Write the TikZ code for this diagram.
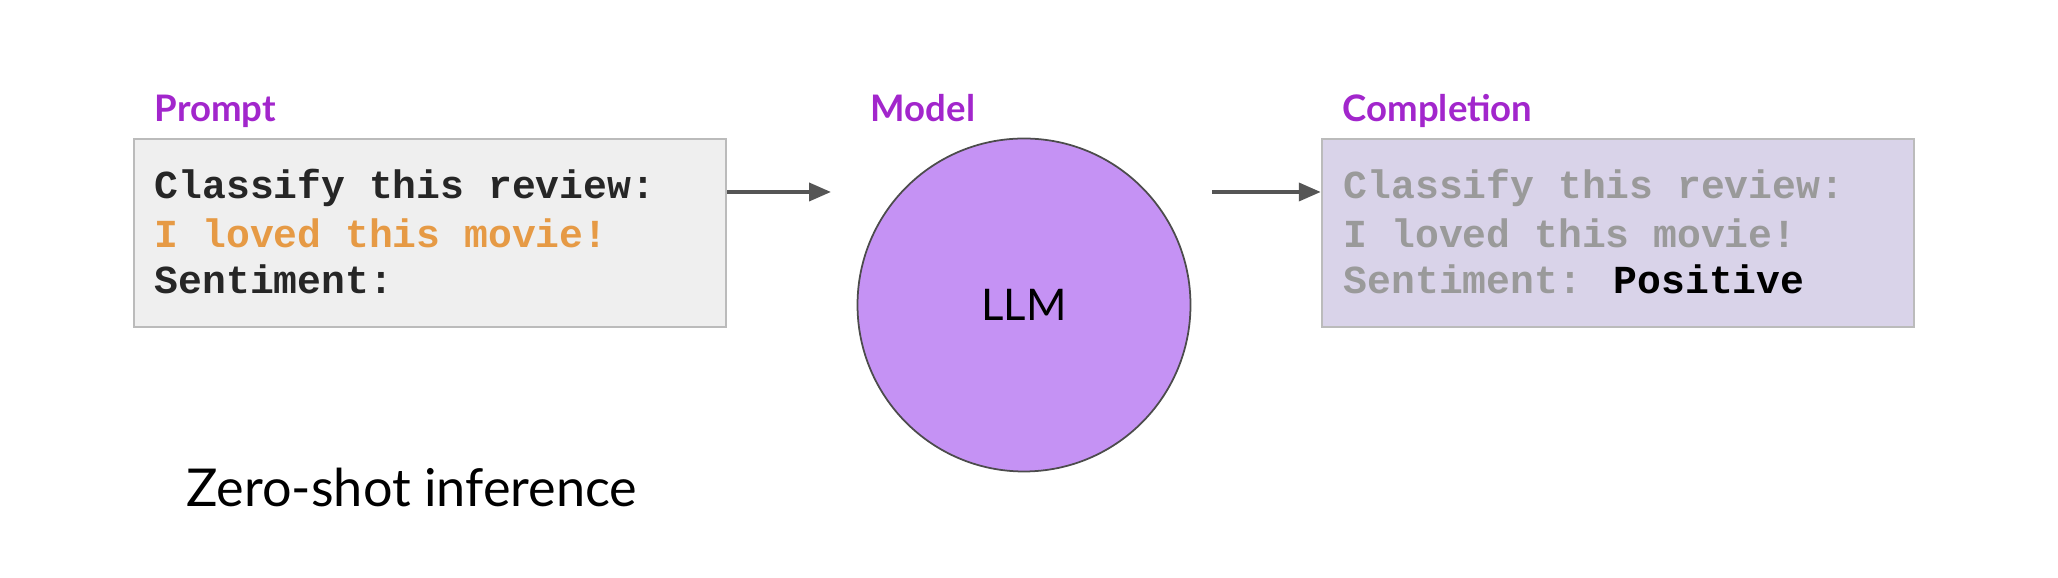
\documentclass[tikz,border=0pt]{standalone}
\usepackage{fontspec}
\setmainfont{Lato}
\newfontfamily\codefont{Liberation Mono}
\usetikzlibrary{arrows.meta}
\definecolor{labelpurple}{HTML}{A226CC}
\definecolor{llmfill}{HTML}{C592F4}
\definecolor{promptfill}{HTML}{EFEFEF}
\definecolor{complfill}{HTML}{D9D3E9}
\definecolor{boxline}{HTML}{BBBBBB}
\definecolor{orangetext}{HTML}{E69A45}
\definecolor{greytext}{HTML}{9A9A9A}
\definecolor{arrowgrey}{HTML}{555555}
\tikzset{
  panel/.style={draw=boxline, line width=0.7pt, minimum width=5.92cm, minimum height=1.88cm, inner sep=0pt},
  tag/.style={anchor=base west, inner sep=0pt, text=labelpurple, font=\fontsize{10.4pt}{12pt}\selectfont\bfseries},
  codeline/.style={anchor=base west, inner sep=0pt, font=\fontsize{11.3pt}{13pt}\selectfont\codefont\bfseries},
  flow/.style={draw=arrowgrey, line width=1.1pt, -{Triangle[length=2.2mm,width=1.8mm]}}
}
\begin{document}
\begin{tikzpicture}
  \useasboundingbox (0,0) rectangle (20.58,5.78);
  % boxes and model
  \node[panel, fill=promptfill] (prompt) at (4.30,3.45) {};
  \node[panel, fill=complfill] (compl) at (16.18,3.45) {};
  \node[circle, draw=black!70, line width=0.5pt, fill=llmfill, minimum size=3.33cm,
        font=\fontsize{12.4pt}{14pt}\selectfont] (llm) at (10.24,2.73) {LLM};
  % labels
  \node[tag] (promptlbl) at (1.54,4.56) {Prompt};
  \node[tag] (modellbl) at (8.70,4.56) {Model};
  \node[tag] (compllbl) at (13.42,4.56) {Completion};
  % prompt text
  \node[codeline, text=black!85] (p1) at (1.54,3.79) {Classify this review:};
  \node[codeline, text=orangetext] (p2) at (1.54,3.30) {I loved this movie!};
  \node[codeline, text=black!85] (p3) at (1.54,2.84) {Sentiment:};
  % completion text
  \node[codeline, text=greytext] (c1) at (13.43,3.79) {Classify this review:};
  \node[codeline, text=greytext] (c2) at (13.43,3.30) {I loved this movie!};
  \node[codeline, text=greytext] (c3) at (13.43,2.84) {Sentiment: \textcolor{black}{Positive}};
  % caption
  \node[anchor=base west, inner sep=0pt, font=\fontsize{14.85pt}{18pt}\selectfont] (caption) at (1.86,0.71) {Zero-shot inference};
  % arrows
  \coordinate (a1) at (8.31,3.86);
  \coordinate (a2s) at (12.12,3.86);
  \begin{scope}
    \draw[flow] (prompt.east |- a1) -- (a1);
    \draw[flow] (a2s) -- (compl.west |- a2s);
  \end{scope}
\end{tikzpicture}
\end{document}
